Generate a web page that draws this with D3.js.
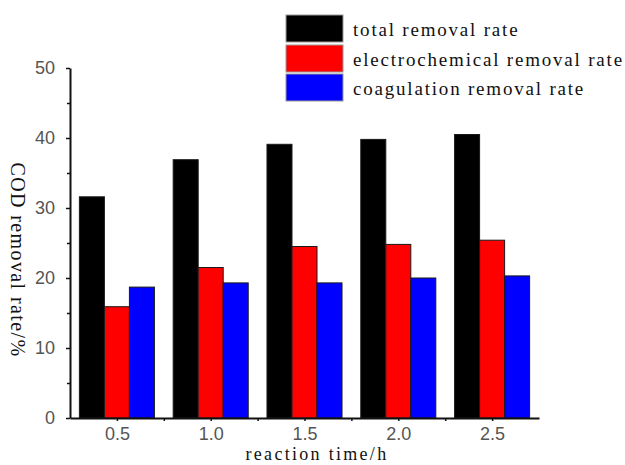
<!DOCTYPE html>
<html>
<head>
<meta charset="utf-8">
<script src="https://d3js.org/d3.v7.min.js"></script>
<style>
  body { margin: 0; background: #fff; }
  svg { display: block; }
</style>
</head>
<body>
<script>
// reaction time (h) and the three removal rates (%)
var times = [0.5, 1.0, 1.5, 2.0, 2.5];
var totalRate = [31.6, 36.9, 39.1, 39.8, 40.5];
var electroRate = [15.9, 21.5, 24.5, 24.8, 25.4];
var coagRate = [18.7, 19.3, 19.3, 20.0, 20.3];
var seriesNames = ["total removal rate", "electrochemical removal rate", "coagulation removal rate"];
var seriesColors = ["#000000", "#ff0000", "#0000ff"];
var yTicks = [0, 10, 20, 30, 40, 50];
var yMinor = [5, 15, 25, 35, 45];
var xMinor = [0.75, 1.25, 1.75, 2.25];

function draw() {
    var width = 625;
    var height = 465;
    var serif = "'Liberation Serif', 'Times New Roman', serif";
    var sans = "'Liberation Sans', Arial, sans-serif";

    var svg = d3.select("body").append("svg")
        .attr("width", width)
        .attr("height", height);

    var x = d3.scaleLinear().domain([0.25, 2.75]).range([70, 539]);
    var y = d3.scaleLinear().domain([0, 50]).range([418, 68]);
    var groupW = x(0.65) - x(0.25);
    var inner = d3.scaleBand().domain(d3.range(3)).range([-groupW / 2, groupW / 2]);

    var values = [totalRate, electroRate, coagRate];
    var rows = [];
    times.forEach(function(t, i) {
        values.forEach(function(s, k) {
            rows.push({t: t, k: k, v: s[i]});
        });
    });

    svg.append("g")
        .selectAll("rect")
        .data(rows)
        .join("rect")
            .attr("x", d => x(d.t) + inner(d.k))
            .attr("y", d => y(d.v))
            .attr("width", inner.bandwidth())
            .attr("height", d => y(0) - y(d.v))
            .attr("fill", d => seriesColors[d.k])
            .attr("stroke", "#1a1a1a")
            .attr("stroke-width", 1);

    // y axis
    svg.append("g")
        .attr("transform", "translate(70,0)")
        .call(d3.axisLeft(y).tickValues(yTicks).tickSize(4).tickPadding(11).tickSizeOuter(0));
    svg.append("g")
        .attr("transform", "translate(70,0)")
        .call(d3.axisLeft(y).tickValues(yMinor).tickSize(3).tickFormat("").tickSizeOuter(0))
        .select(".domain").remove();

    // x axis
    svg.append("g")
        .attr("transform", "translate(0,418)")
        .call(d3.axisBottom(x).tickValues(times).tickSize(3).tickPadding(6).tickSizeOuter(0)
            .tickFormat(d3.format(".1f")));
    svg.append("g")
        .attr("transform", "translate(0,418)")
        .call(d3.axisBottom(x).tickValues(xMinor).tickSize(3).tickFormat("").tickSizeOuter(0))
        .select(".domain").remove();

    svg.selectAll(".domain").attr("stroke", "#111").attr("stroke-width", 2);
    svg.selectAll(".tick line").attr("stroke", "#111").attr("stroke-width", 1.5);
    svg.selectAll(".tick text")
        .attr("font-family", sans)
        .attr("font-size", 18)
        .attr("fill", "#555");

    // axis titles
    svg.append("text")
        .attr("transform", "translate(11,260) rotate(90)")
        .attr("text-anchor", "middle")
        .attr("font-family", serif)
        .attr("font-size", 20)
        .attr("letter-spacing", 1.4)
        .attr("fill", "#111")
        .text("COD removal rate/%");

    svg.append("text")
        .attr("x", 317)
        .attr("y", 460)
        .attr("text-anchor", "middle")
        .attr("font-family", serif)
        .attr("font-size", 18)
        .attr("letter-spacing", 2.3)
        .attr("fill", "#111")
        .text("reaction time/h");

    // legend
    var legendY = [15, 45, 74];
    var legend = svg.append("g")
        .selectAll("g")
        .data(seriesNames)
        .join("g")
            .attr("transform", (d, i) => "translate(286," + legendY[i] + ")");
    legend.append("rect")
        .attr("width", 57)
        .attr("height", 27)
        .attr("fill", (d, i) => seriesColors[i])
        .attr("stroke", "#999")
        .attr("stroke-width", 1);
    legend.append("text")
        .attr("x", 67)
        .attr("y", 21)
        .attr("font-family", serif)
        .attr("font-size", 19)
        .attr("letter-spacing", 1.8)
        .attr("fill", "#111")
        .text(d => d);
}

draw();
</script>
</body>
</html>
